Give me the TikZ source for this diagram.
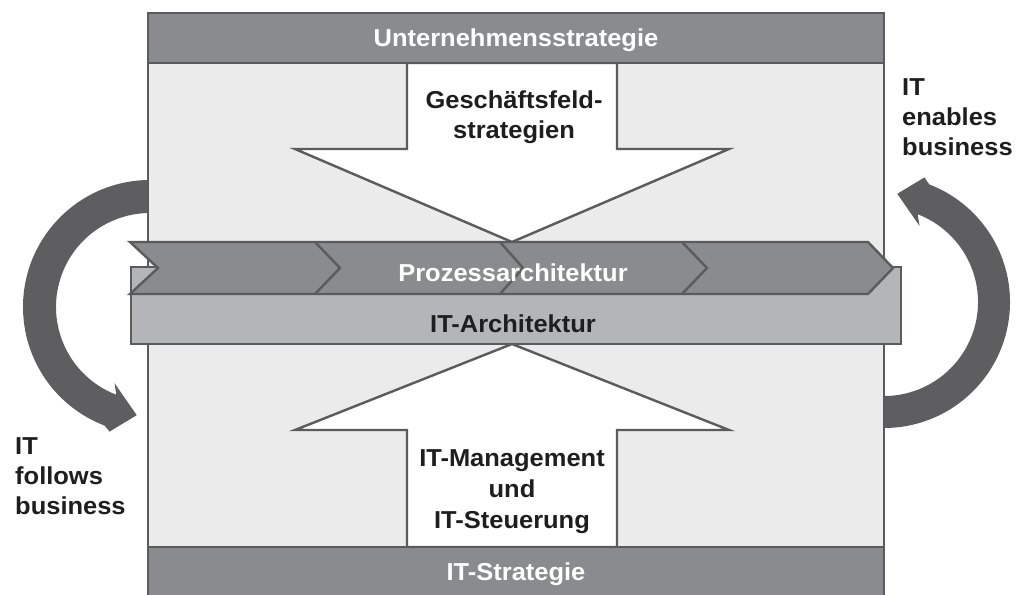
\documentclass[tikz,border=0pt]{standalone}
\usepackage{fontspec}
\setmainfont{Liberation Sans}[FakeStretch=1.04]
\definecolor{lineC}{HTML}{5B5B5D}
\definecolor{barC}{HTML}{8A8B8E}
\definecolor{bgC}{HTML}{EBEBEB}
\definecolor{archC}{HTML}{B4B5B8}
\definecolor{curveC}{HTML}{5E5E60}
\definecolor{txtC}{HTML}{1E1E1E}
\usetikzlibrary{calc}
\begin{document}
\begin{tikzpicture}[x=1pt,y=-1pt,
  edge/.style={draw=lineC, line width=2.4pt, line join=miter},
  bigtxt/.style={font=\fontsize{24.5}{30}\selectfont\bfseries, text=txtC, inner sep=0pt},
  whitetxt/.style={bigtxt, text=white},
  curvearrow/.style={fill=curveC}]
\useasboundingbox (0,0) rectangle (1027,594);
% curved arrows
\coordinate (lc) at (150,307);
\coordinate (rc) at (884,302);
\fill[curvearrow] ($(lc)+(270:127)$) arc[start angle=270, end angle=111, radius=127]
  -- ($(lc)+(108:131)$) -- ($(lc)+(97:109)$) -- ($(lc)+(115:84)$) -- ($(lc)+(111:94)$)
  arc[start angle=111, end angle=270, radius=94] -- cycle;
\fill[curvearrow] ($(rc)+(90:126)$) arc[start angle=90, end angle=-69, radius=126]
  -- ($(rc)+(-72:131)$) -- ($(rc)+(-83:109)$) -- ($(rc)+(-65:84)$) -- ($(rc)+(-69:94)$)
  arc[start angle=-69, end angle=90, radius=94] -- cycle;
% frame
\path[edge, fill=bgC] (148,13) rectangle (884,610);
% arrows
\path[edge, fill=white] (407,63) -- (617,63) -- (617,149) -- (729,149) -- (512,242) -- (295,149) -- (407,149) -- cycle;
\path[edge, fill=white] (407,547) -- (617,547) -- (617,430) -- (729,430) -- (512,344) -- (295,430) -- (407,430) -- cycle;
% bars
\path[edge, fill=barC] (148,13) rectangle (884,63);
\path[edge, fill=barC] (148,547) rectangle (884,610);
% IT architecture box
\path[edge, fill=archC] (131,267) rectangle (901,344);
% process chevron band
\path[edge, fill=barC] (130,242) -- (868,242) -- (893,268) -- (868,294) -- (130,294) -- (158,268) -- cycle;
\draw[edge] (315,242) -- (340,268) -- (315,294);
\draw[edge] (500,242) -- (523,268) -- (500,294);
\draw[edge] (682,242) -- (707,268) -- (682,294);
% texts
\node[whitetxt, anchor=base] (us) at (516,47) {Unternehmensstrategie};
\node[whitetxt, anchor=base] (its) at (516,580) {IT-Strategie};
\node[whitetxt, anchor=base] (pa) at (513,281) {Prozessarchitektur};
\node[bigtxt, anchor=base] (ita) at (513,332) {IT-Architektur};
\node[bigtxt, align=center] (gfs) at (514,117.5) {Geschäftsfeld-\\strategien};
\node[bigtxt, align=center, font=\fontsize{24.5}{31}\selectfont\bfseries] (itm) at (512,491.5) {IT-Management\\und\\IT-Steuerung};
\node[bigtxt, align=left, anchor=north west] (itf) at (15,437.5) {IT\\follows\\business};
\node[bigtxt, align=left, anchor=north west] (ite) at (902,78.5) {IT\\enables\\business};
\end{tikzpicture}
\end{document}
